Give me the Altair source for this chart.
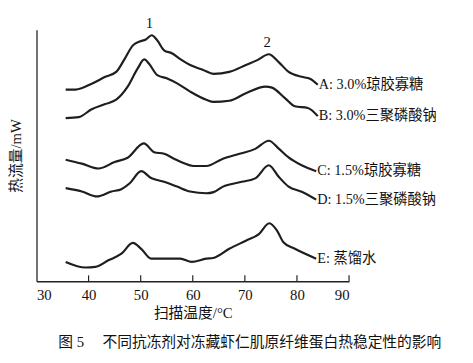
import altair as alt
import pandas as pd

# Temperature (°C) and curve height (pixel-like units above baseline)
a_x = [35.6, 37.5, 40.6, 43.2, 45.3, 46.9, 48.5, 49.8, 51.0, 52.1, 53.2, 54.5, 56.0, 57.6, 59.5, 62.0, 64.0, 67.0, 70.2, 72.4, 74.6, 76.5, 78.4, 80.9, 82.5, 84.0]
a_py = [88, 88, 82, 75, 70, 57, 43, 39, 37, 32.7, 38, 48, 51, 57, 63, 68, 72, 70, 63, 58, 52, 60, 70, 75, 77, 83]

b_x = [35.6, 38.1, 40.6, 43.2, 45.3, 47.5, 49.4, 50.7, 51.6, 53.2, 55.1, 57.0, 59.5, 62.6, 64.0, 67.0, 70.2, 74.0, 75.2, 77.7, 79.6, 82.1, 84.0]
b_py = [117, 116, 108, 102.7, 98.3, 85, 66.7, 57.3, 61.7, 73.3, 76.7, 81.7, 90, 98.3, 100.5, 99.3, 91.7, 85, 86, 96.7, 105, 106.7, 115]

c_x = [35.6, 38.7, 41.9, 45.0, 47.5, 50.6, 52.6, 54.5, 56.4, 58.2, 60.1, 62.6, 65.8, 69.0, 72.0, 74.6, 76.5, 78.4, 80.9, 83.7]
c_py = [159.3, 163.3, 168.3, 161.7, 157.3, 142.7, 151.7, 153.3, 158.3, 162.7, 165.7, 165.7, 158.3, 153.3, 148.3, 140, 148, 157, 165, 171]

d_x = [35.6, 38.7, 41.6, 44.4, 46.3, 47.9, 50.1, 52.0, 54.5, 57.0, 59.5, 62.6, 64.0, 65.8, 69.0, 72.0, 74.6, 76.5, 78.4, 80.9, 83.7]
d_py = [188.3, 191.7, 196.7, 191.7, 189.3, 183.3, 171, 178, 181.7, 186.7, 191.7, 193.5, 192.3, 186.7, 182.3, 178.3, 165, 176.7, 186.7, 192, 200]

e_x = [35.6, 39.4, 41.3, 43.8, 46.3, 48.5, 50.1, 52.0, 54.5, 57.6, 59.8, 62.6, 63.9, 67.0, 70.2, 72.7, 74.7, 76.2, 77.4, 79.6, 83.7]
e_py = [263.3, 269, 268.3, 261.7, 255, 244, 250, 260, 260, 260, 263.3, 260, 259.3, 250, 241.7, 235, 224, 231.7, 243.3, 250, 260]

series_names = ["A", "B", "C", "D", "E"]
series_labels = ["A: 3.0%琼胶寡糖", "B: 3.0%三聚磷酸钠", "C: 1.5%琼胶寡糖", "D: 1.5%三聚磷酸钠", "E: 蒸馏水"]
xs = [a_x, b_x, c_x, d_x, e_x]
pys = [a_py, b_py, c_py, d_py, e_py]

peak_labels = ["1", "2"]
peak_x = [51.7, 74.3]
peak_v = [263, 243]

tick_values = [30, 40, 50, 60, 70, 80, 90]
inner_ticks = [40, 50, 60, 70, 80, 90]

caption = "图\u00a05\u3000\u00a0不同抗冻剂对冻藏虾仁肌原纤维蛋白热稳定性的影响"

BASE = 283.0
rows = []
for name, xx, yy in zip(series_names, xs, pys):
    for x, y in zip(xx, yy):
        rows.append({"series": name, "T": x, "v": BASE - y})
df = pd.DataFrame(rows)

lab_df = pd.DataFrame({
    "label": series_labels,
    "T": [xx[-1] for xx in xs],
    "v": [BASE - yy[-1] for yy in pys],
})
peak_df = pd.DataFrame({"label": peak_labels, "T": peak_x, "v": peak_v})
tick_df = pd.DataFrame({"T": inner_ticks, "v0": [0] * len(inner_ticks), "v1": [6] * len(inner_ticks)})

FONT = "Liberation Serif, Noto Sans CJK SC"
xscale = alt.Scale(domain=[30, 90], nice=False, zero=False)
yscale = alt.Scale(domain=[0, 256], nice=False, zero=False)

lines = alt.Chart(df).mark_line(color="#1e1e1e", strokeWidth=2.2, interpolate="monotone").encode(
    x=alt.X("T:Q", scale=xscale, title="扫描温度/°C",
            axis=alt.Axis(values=tick_values, tickSize=0, grid=False, labelPadding=7,
                          labelFontSize=15, titleFontSize=15, labelFont=FONT, titleFont=FONT,
                          titleFontWeight="normal", labelColor="#111", titleColor="#111",
                          domainColor="#222", domainWidth=1.3, titlePadding=3)),
    y=alt.Y("v:Q", scale=yscale, title="热流量/mW",
            axis=alt.Axis(labels=False, ticks=False, grid=False, titleFontSize=15, titleFont=FONT,
                          titleFontWeight="normal", titleColor="#111", domainColor="#222",
                          domainWidth=1.3, titlePadding=13)),
    detail="series:N",
)

ticks = alt.Chart(tick_df).mark_rule(color="#222", strokeWidth=1.2).encode(
    x=alt.X("T:Q", scale=xscale), y=alt.Y("v0:Q", scale=yscale), y2="v1:Q"
)

labels = alt.Chart(lab_df).mark_text(align="left", baseline="middle", dx=1, fontSize=14.5,
                                     font=FONT, color="#111").encode(
    x=alt.X("T:Q", scale=xscale), y=alt.Y("v:Q", scale=yscale), text="label:N"
)

peaks = alt.Chart(peak_df).mark_text(align="center", baseline="middle", fontSize=15,
                                     font=FONT, color="#111").encode(
    x=alt.X("T:Q", scale=xscale), y=alt.Y("v:Q", scale=yscale), text="label:N"
)

chart = alt.layer(lines, ticks, labels, peaks).properties(
    width=318, height=256,
    autosize=alt.AutoSizeParams(type="none"),
    padding={"left": 29, "top": 19, "right": 118, "bottom": 72},
    title=alt.Title(caption, orient="bottom",
                    anchor="middle", dx=58, offset=15, fontSize=15, font=FONT,
                    fontWeight="normal", color="#111"),
).configure_view(stroke=None)

chart.save("out.html", embed_options={"renderer": "svg", "actions": False})
